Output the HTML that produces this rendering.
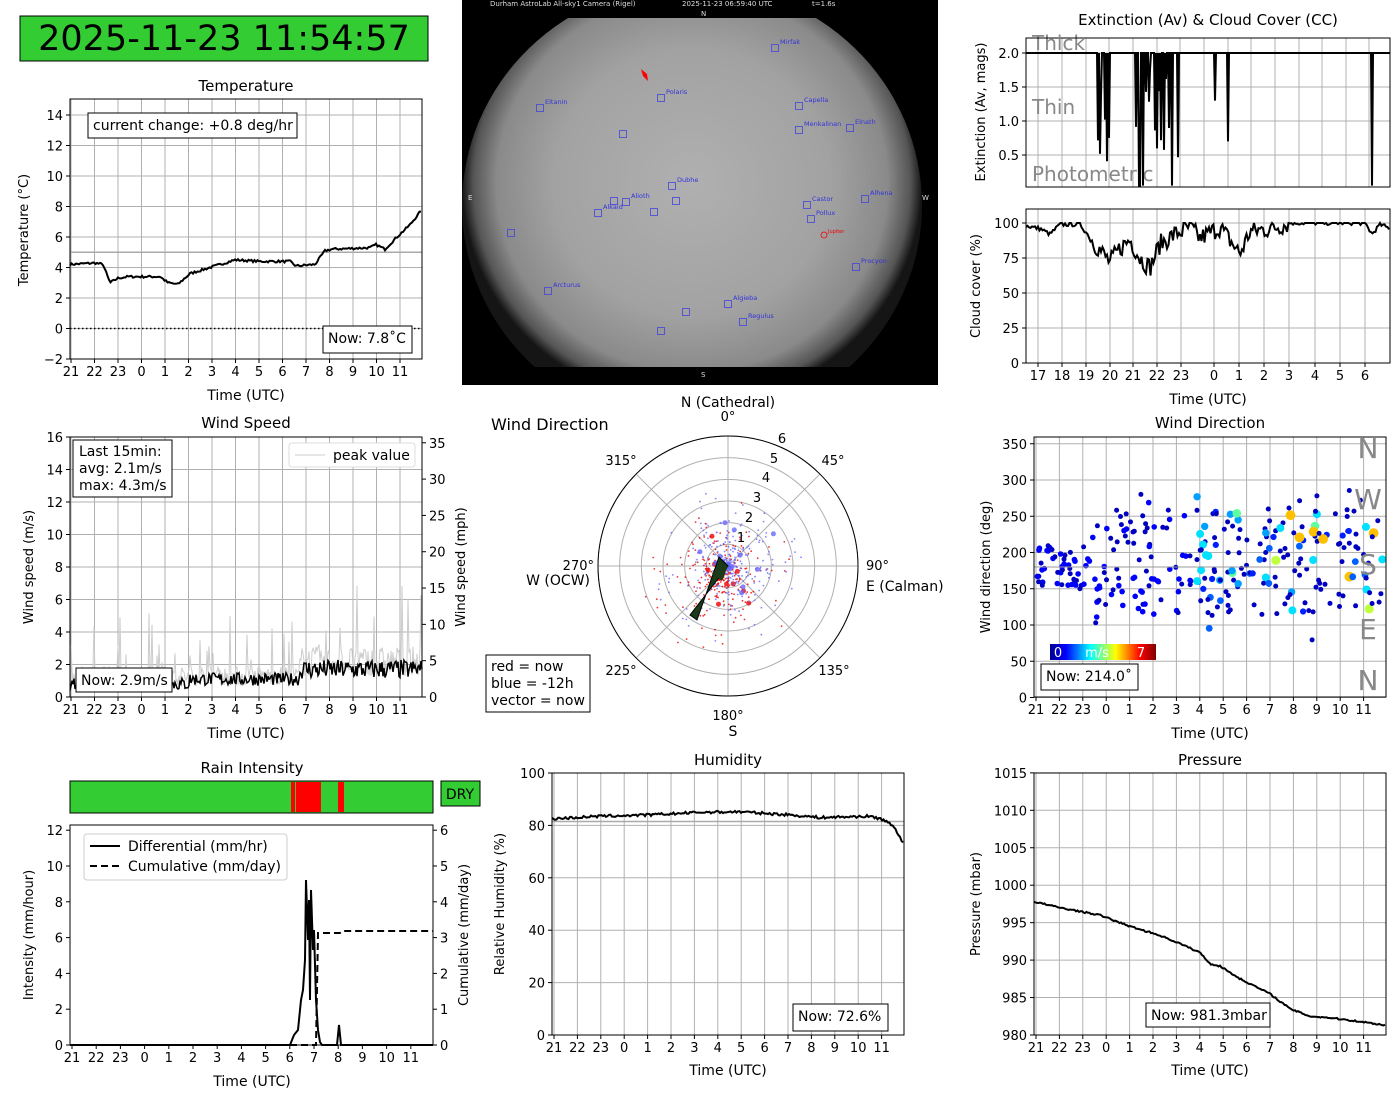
<!DOCTYPE html>
<html><head><meta charset="utf-8"><style>
html,body{margin:0;padding:0;background:#fff;width:1400px;height:1100px;overflow:hidden}
svg text{font-family:"DejaVu Sans","Liberation Sans",sans-serif}
</style></head><body>
<svg id="s" width="1400" height="1100" xmlns="http://www.w3.org/2000/svg">
<defs>
<radialGradient id="sky" cx="0.5" cy="0.45" r="0.5">
<stop offset="0" stop-color="#b0b0b0"/><stop offset="0.6" stop-color="#a2a2a2"/><stop offset="0.85" stop-color="#8a8a8a"/><stop offset="0.95" stop-color="#555"/><stop offset="1" stop-color="#151515"/>
</radialGradient>
<linearGradient id="jet" x1="0" x2="1"><stop offset="0" stop-color="#00008f"/><stop offset="0.15" stop-color="#0000ff"/><stop offset="0.38" stop-color="#00ffff"/><stop offset="0.62" stop-color="#ffff00"/><stop offset="0.85" stop-color="#ff0000"/><stop offset="1" stop-color="#800000"/></linearGradient>
</defs>
<rect x="20" y="16" width="408" height="45" fill="#33cc33" stroke="#000" stroke-width="1"/>
<text x="224" y="50" font-size="35" text-anchor="middle">2025-11-23 11:54:57</text>
<rect x="462" y="0" width="476" height="385" fill="#000"/>
<clipPath id="skc"><rect x="462" y="18" width="476" height="349"/></clipPath>
<ellipse cx="692" cy="205" rx="230" ry="222" fill="url(#sky)" clip-path="url(#skc)"/>
<g font-size="7" fill="#ddd"><text x="490" y="6">Durham AstroLab All-sky1 Camera (Rigel)</text><text x="682" y="6">2025-11-23 06:59:40 UTC</text><text x="812" y="6">t=1.6s</text>
<text x="701" y="16">N</text><text x="701" y="377">S</text><text x="468" y="200">E</text><text x="922" y="200">W</text></g>
<g id="stars" fill="none" stroke="#4444dd" stroke-width="0.8"></g>
<g id="g"></g>
</svg>
<script>
var g=document.getElementById('g'),H='';
function T(x,y,t,sz,anc,extra){H+='<text x="'+x+'" y="'+y+'" font-size="'+(sz||13)+'" text-anchor="'+(anc||'start')+'" '+(extra||'')+'>'+t+'</text>';}
function L(x1,y1,x2,y2,c,w,ex){H+='<line x1="'+x1+'" y1="'+y1+'" x2="'+x2+'" y2="'+y2+'" stroke="'+(c||'#000')+'" stroke-width="'+(w||1)+'" '+(ex||'')+'/>';}
function P(pts,c,w,ex){H+='<polyline fill="none" points="'+pts.map(function(p){return p[0].toFixed(1)+','+p[1].toFixed(1)}).join(' ')+'" stroke="'+c+'" stroke-width="'+w+'" '+(ex||'')+'/>';}
var seed=7;function R(){seed=(seed*16807)%2147483647;return seed/2147483647;}
function ax(x0,y0,x1,y1,xt,yt,yr,nogrid){
 if(!nogrid){xt.forEach(function(t){L(t[0],y0,t[0],y1,'#b0b0b0',1)});yt.forEach(function(t){L(x0,t[0],x1,t[0],'#b0b0b0',1)});}
 xt.forEach(function(t){L(t[0],y1,t[0],y1+4);T(t[0],y1+17,t[1],13,'middle')});
 yt.forEach(function(t){L(x0-4,t[0],x0,t[0]);T(x0-7,t[0]+5,t[1],13,'end')});
 if(yr)yr.forEach(function(t){L(x1,t[0],x1+4,t[0]);T(x1+7,t[0]+5,t[1],13,'start')});
}
function frame(x0,y0,x1,y1){H+='<rect x="'+x0+'" y="'+y0+'" width="'+(x1-x0)+'" height="'+(y1-y0)+'" fill="none" stroke="#000"/>';}
var hl=['21','22','23','0','1','2','3','4','5','6','7','8','9','10','11'];
function hx(a,s){return hl.map(function(l,i){return [a+i*s,l]});}
function interp(k,x){for(var i=1;i<k.length;i++){if(x<=k[i][0]){var a=k[i-1],b=k[i];return a[1]+(b[1]-a[1])*(x-a[0])/(b[0]-a[0]);}}return k[k.length-1][1];}
function ylab(x,y,t){T(x,y,t,13,'middle','transform="rotate(-90 '+x+' '+y+')"');}
function box(x,y,w,h,lines){H+='<rect x="'+x+'" y="'+y+'" width="'+w+'" height="'+h+'" fill="#fff" stroke="#000"/>';lines.forEach(function(l,i){T(x+5,y+17+i*17,l,14)});}

// Temperature
var tY=function(v){return 328.5-v*15.25};
ax(70,99,422,359,hx(71,23.5),[-2,0,2,4,6,8,10,12,14].map(function(v){return [tY(v),v<0?'−'+(-v):v]}));
L(70,tY(5),422,tY(5),'#aaa',1.5);L(70,tY(0),422,tY(0),'#000',1.5,'stroke-dasharray="1.5,2.5"');
var tk=[[70,4.2],[95,4.3],[103,4.2],[110,3.0],[118,3.3],[128,3.4],[160,3.4],[168,3.0],[178,2.9],[190,3.6],[210,4.0],[235,4.5],[260,4.4],[290,4.4],[296,4.1],[315,4.2],[325,5.1],[332,5.2],[370,5.3],[376,5.5],[385,5.2],[397,6.0],[410,6.8],[422,7.8]];
var pts=[];for(var x=70;x<=422;x+=1.5)pts.push([x,tY(interp(tk,x)+(R()-0.5)*0.15)]);P(pts,'#000',2);
frame(70,99,422,359);
T(246,91,'Temperature',15,'middle');T(246,400,'Time (UTC)',14,'middle');ylab(28,230,'Temperature (°C)');
box(88,113,209,25,['current change: +0.8 deg/hr']);box(323,326,89,27,['Now: 7.8˚C']);

// Extinction
var eY=function(v){return 189-v*68};
ax(1026,38,1390,187,[],[0.5,1.0,1.5,2.0].map(function(v){return [eY(v),v.toFixed(1)]}));
[1038,1062,1086,1109,1133,1157,1180,1204,1228,1251,1275,1299,1322,1346,1369].forEach(function(x){L(x,38,x,187,'#b0b0b0')});
T(1032,50,'Thick',20,'start','fill="#888"');T(1032,114,'Thin',20,'start','fill="#888"');T(1032,181,'Photometric',20,'start','fill="#888"');
pts=[];for(var x=1026;x<=1390;x+=1){var v=2.0;if(x>1095&&x<1180&&R()<0.3)v=0.4+R()*1.5;if(x>1136&&x<1145&&R()<0.5)v=0.05;if(x==1172)v=0.05;if(x==1215)v=1.3;if(x==1228)v=0.7;if(x==1372)v=0.05;pts.push([x,eY(v)]);}P(pts,'#000',2);
frame(1026,38,1390,187);
T(1208,25,'Extinction (Av) & Cloud Cover (CC)',15,'middle');ylab(985,112,'Extinction (Av, mags)');
// Cloud
var cY=function(v){return 363-v*1.4};
var cx=[[1038,'17'],[1062,'18'],[1086,'19'],[1110,'20'],[1133,'21'],[1157,'22'],[1181,'23'],[1214,'0'],[1239,'1'],[1264,'2'],[1289,'3'],[1315,'4'],[1340,'5'],[1365,'6']];
ax(1026,209,1390,363,cx,[0,25,50,75,100].map(function(v){return [cY(v),v]}));
var ck=[[1026,98],[1040,96],[1050,92],[1060,99],[1080,99],[1095,85],[1110,72],[1120,82],[1130,88],[1140,75],[1150,68],[1160,85],[1175,92],[1190,97],[1200,89],[1220,97],[1240,78],[1250,94],[1270,96],[1290,100],[1330,100],[1365,100],[1372,92],[1380,99],[1390,96]];
pts=[];for(var x=1026;x<=1390;x+=1.5){var v=interp(ck,x)+(R()-0.5)*(x>1090&&x<1290?14:3);pts.push([x,cY(Math.min(100,v))]);}P(pts,'#000',2);
frame(1026,209,1390,363);T(1208,404,'Time (UTC)',14,'middle');ylab(980,286,'Cloud cover (%)');

// Wind speed
var wY=function(v){return 697-v*16.25};
ax(70,437,422,697,hx(71,23.5),[0,2,4,6,8,10,12,14,16].map(function(v){return [wY(v),v]}),[0,5,10,15,20,25,30,35].map(function(m){return [697-m*0.447*16.25,m]}));
pts=[];for(var x=70;x<=422;x+=1){var b=x<300?0.7:1.3;var v=b+R()*(x>300?1.8:1.2);if(R()<0.07)v+=R()*(x>300?4.5:3.5);pts.push([x,wY(v)]);}P(pts,'#ccc',1);
pts=[];for(var x=70;x<=422;x+=1){var b=x<190?0.4:(x<300?0.7:1.1);var v=b+R()*(x>300?1.2:0.8);pts.push([x,wY(v)]);}P(pts,'#000',1.5);
frame(70,437,422,697);
T(246,428,'Wind Speed',15,'middle');T(246,738,'Time (UTC)',14,'middle');ylab(33,567,'Wind speed (m/s)');ylab(465,567,'Wind speed (mph)');
H+='<rect x="73" y="440" width="99" height="57" fill="#fff" stroke="#000"/>';T(79,456,'Last 15min:',14);T(79,473,'avg: 2.1m/s',14);T(79,490,'max: 4.3m/s',14);
H+='<rect x="289" y="443" width="126" height="24" fill="#fff" stroke="#ddd" rx="3"/>';L(295,455,325,455,'#ccc');T(333,460,'peak value',14);
box(76,668,96,24,['Now: 2.9m/s']);

// Polar
var pcx=728,pcy=566,pr=130;
for(var i=1;i<=6;i++)H+='<circle cx="'+pcx+'" cy="'+pcy+'" r="'+(i*21.67)+'" fill="none" stroke="#b0b0b0"/>';
for(var a=0;a<360;a+=45){var r=a*Math.PI/180;L(pcx,pcy,pcx+pr*Math.sin(r),pcy-pr*Math.cos(r),'#b0b0b0');}
H+='<circle cx="'+pcx+'" cy="'+pcy+'" r="'+pr+'" fill="none" stroke="#000"/>';
for(var i=0;i<700;i++){var a=R()*Math.PI*2,rr=Math.pow(R(),1.8)*(R()<0.4?80:45);var red=i<330;var dx=rr*Math.sin(a),dy=rr*Math.cos(a);if(red){dx-=8;dy+=10;}H+='<circle cx="'+(pcx+dx).toFixed(1)+'" cy="'+(pcy+dy).toFixed(1)+'" r="'+(R()<0.04?2.5:0.9)+'" fill="'+(red?'#e00':'#66f')+'" opacity="0.8"/>';}
H+='<polygon points="728,566 719,557 697,620 690,615" fill="#1a3a1a" stroke="#000"/><polygon points="728,566 712,573 722,581" fill="#1a3a1a"/>';
[[1,741,542],[2,749,522],[3,757,502],[4,766,482],[5,774,463],[6,782,443]].forEach(function(t){T(t[1],t[2],t[0],13,'middle')});
T(728,421,'0°',13,'middle');T(728,407,'N (Cathedral)',14,'middle');T(833,465,'45°',13,'middle');T(866,570,'90°',13);T(866,591,'E (Calman)',14);
T(834,675,'135°',13,'middle');T(728,720,'180°',13,'middle');T(733,736,'S',14,'middle');T(621,675,'225°',13,'middle');
T(594,570,'270°',13,'end');T(590,585,'W (OCW)',14,'end');T(621,465,'315°',13,'middle');T(491,430,'Wind Direction',16);
H+='<rect x="486" y="655" width="104" height="57" fill="#fff" stroke="#000"/>';T(491,671,'red = now',14);T(491,688,'blue = -12h',14);T(491,705,'vector = now',14);

// Wind direction scatter
var dY=function(v){return 697.5-v*0.725};
ax(1034,437,1386,697,hx(1036,23.4),[0,50,100,150,200,250,300,350].map(function(v){return [dY(v),v]}));
var jet=['#0000c0','#0000ff','#0020ff','#0060ff','#00a0ff','#00e0ff','#60ffa0','#c0ff40','#ffc000','#ff6000','#e00000'];
for(var i=0;i<300;i++){var x=1036+R()*348,d;var late=(x-1034)/352;d=110+R()*150+(R()<0.3?(R()-0.5)*90:0);if(x<1090)d=150+R()*60;var ci=0;if(late>0.45&&R()<0.35)ci=Math.min(10,Math.floor(2+R()*late*9));if(late<0.45)ci=Math.floor(R()*2);var rad=2.5+ci*0.3;H+='<circle cx="'+x.toFixed(1)+'" cy="'+dY(d).toFixed(1)+'" r="'+rad.toFixed(1)+'" fill="'+jet[ci]+'"/>';}
L(1034,dY(180),1386,dY(180),'#999',1);
frame(1034,437,1386,697);
[['N',458],['W',509],['S',574],['E',639],['N',690]].forEach(function(t){T(1368,t[1],t[0],28,'middle','fill="#888"')});
H+='<rect x="1050" y="644" width="106" height="16" fill="url(#jet)"/>';T(1058,657,'0',13,'middle','fill="#fff"');T(1097,657,'m/s',13,'middle','fill="#fff"');T(1141,657,'7',13,'middle','fill="#fff"');
box(1041,664,97,26,['Now: 214.0˚']);
T(1210,428,'Wind Direction',15,'middle');T(1210,738,'Time (UTC)',14,'middle');ylab(990,567,'Wind direction (deg)');

// Rain
H+='<rect x="70" y="781" width="363" height="32" fill="#33cc33" stroke="#000"/><rect x="291" y="782" width="4" height="30" fill="#f00"/><rect x="296" y="782" width="25" height="30" fill="#f00"/><rect x="338" y="782" width="6" height="30" fill="#f00"/>';
H+='<rect x="441" y="781" width="39" height="25" fill="#33cc33" stroke="#000"/>';T(460,799,'DRY',14,'middle');
T(252,773,'Rain Intensity',15,'middle');
var rY=function(v){return 1045-v*17.9};
ax(70,825,433,1045,hx(72,24.2),[0,2,4,6,8,10,12].map(function(v){return [rY(v),v]}),[0,1,2,3,4,5,6].map(function(v){return [rY(v*2),v]}),true);
pts=[[70,1045],[290,1045],[294,1035],[298,1030],[301,1000],[303,990],[305,960],[306,880],[308,940],[309,900],[310,1000],[311,890],[313,950],[314,930],[316,1000],[318,1030],[320,1042],[322,1045],[337,1045],[339,1025],[341,1045],[433,1045]];P(pts,'#000',2);
P([[70,1045],[316,1045],[318,933],[340,933],[342,931],[433,931]],'#000',2,'stroke-dasharray="7,4"');
frame(70,825,433,1045);
H+='<rect x="84" y="834" width="203" height="46" fill="#fff" stroke="#ccc" rx="3"/>';L(90,846,120,846,'#000',2);T(128,851,'Differential (mm/hr)',14);L(90,866,120,866,'#000',2,'stroke-dasharray="7,4"');T(128,871,'Cumulative (mm/day)',14);
T(252,1086,'Time (UTC)',14,'middle');ylab(33,935,'Intensity (mm/hour)');ylab(468,935,'Cumulative (mm/day)');

// Humidity
var uY=function(v){return 1035-v*2.62};
ax(552,773,904,1035,hx(554,23.4),[0,20,40,60,80,100].map(function(v){return [uY(v),v]}));
L(552,uY(81.5),904,uY(81.5),'#aaa',1.5);
var hk=[[552,82.5],[600,83.5],[650,84],[700,85],[740,85.2],[790,84],[820,83],[870,83.5],[885,82],[895,79],[904,72.6]];
pts=[];for(var x=552;x<=904;x+=1.5)pts.push([x,uY(interp(hk,x)+(R()-0.5)*1)]);P(pts,'#000',2);
frame(552,773,904,1035);box(793,1004,95,27,['Now: 72.6%']);
T(728,765,'Humidity',15,'middle');T(728,1075,'Time (UTC)',14,'middle');ylab(504,904,'Relative Humidity (%)');

// Pressure
var qY=function(v){return 1035-(v-980)*7.49};
ax(1034,773,1386,1035,hx(1036,23.4),[980,985,990,995,1000,1005,1010,1015].map(function(v){return [qY(v),v]}));
var qk=[[1034,997.8],[1060,997],[1100,996],[1130,994.5],[1160,993.3],[1180,992.2],[1200,991],[1210,989.5],[1220,989.2],[1240,987.5],[1270,985.5],[1290,983.5],[1310,982.5],[1330,982.3],[1360,981.8],[1386,981.3]];
pts=[];for(var x=1034;x<=1386;x+=1.5)pts.push([x,qY(interp(qk,x)+(R()-0.5)*0.2)]);P(pts,'#000',2);
frame(1034,773,1386,1035);box(1146,1003,124,24,['Now: 981.3mbar']);
T(1210,765,'Pressure',15,'middle');T(1210,1075,'Time (UTC)',14,'middle');ylab(980,904,'Pressure (mbar)');
g.innerHTML=H;

var S='',st=[[775,48,'Mirfak'],[661,98,'Polaris'],[540,108,'Eltanin'],[799,106,'Capella'],[799,130,'Menkalinan'],[850,128,'Elnath'],[623,134,''],[672,186,'Dubhe'],[676,201,''],[654,212,''],[614,201,''],[598,213,'Alkaid'],[626,202,'Alioth'],[807,205,'Castor'],[811,219,'Pollux'],[865,199,'Alhena'],[511,233,''],[856,267,'Procyon'],[548,291,'Arcturus'],[728,304,'Algieba'],[686,312,''],[743,322,'Regulus'],[661,331,'']];
st.forEach(function(s){S+='<rect x="'+(s[0]-3.5)+'" y="'+(s[1]-3.5)+'" width="7" height="7"/>';if(s[2])S+='<text x="'+(s[0]+5)+'" y="'+(s[1]-4)+'" font-size="6.5" fill="#3333dd" stroke="none">'+s[2]+'</text>';});
S+='<circle cx="824" cy="235" r="3" stroke="#e00"/><text x="828" y="233" font-size="5" fill="#e00" stroke="none">Jupiter</text><polygon points="641,69 647,74 648,81 643,76" fill="#f00" stroke="none"/>';
document.getElementById('stars').innerHTML=S;
</script>
</body></html>
